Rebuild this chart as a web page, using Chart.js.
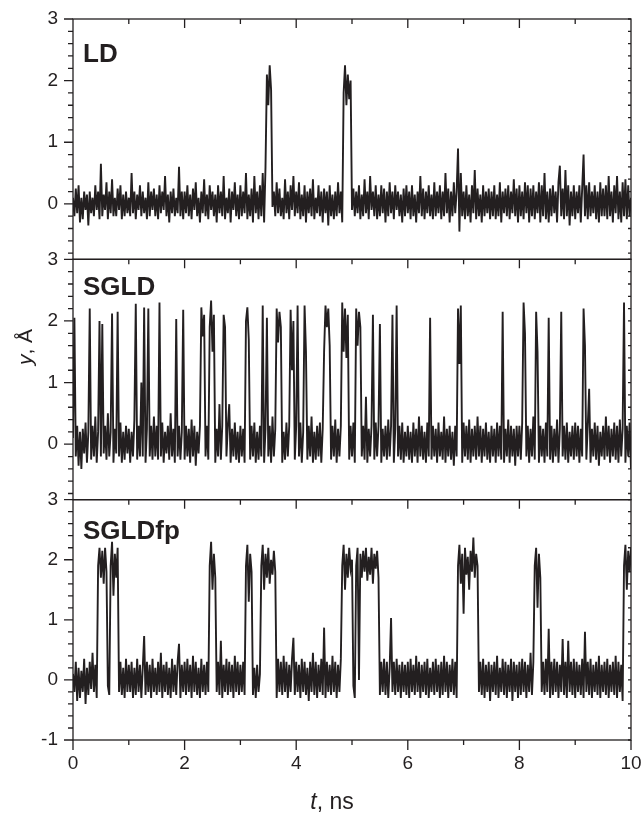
<!DOCTYPE html>
<html>
<head>
<meta charset="utf-8">
<script src="https://cdn.jsdelivr.net/npm/chart.js@4/dist/chart.umd.min.js"></script>
<style>
  body { margin: 0; background: #fff; }
  canvas { display: block; }
</style>
</head>
<body>
<canvas id="grafico" width="641" height="823"></canvas>
<script>
// traces sampled every 0.025 ns, 0..10 ns
const sampleStep = 0.025;

const ldY = [
  0.1,-0.2,0.25,-0.15,0.3,-0.3,0.1,-0.25,0.2,-0.1,0.15,-0.35,0.2,-0.15,0.1,-0.2,0.3,-0.1,0.2,-0.25,
  0.65,-0.2,0.15,-0.1,0.35,-0.25,0.2,-0.15,0.4,-0.2,0.1,-0.2,0.25,-0.1,0.3,-0.25,0.15,-0.2,0.2,-0.15,
  0.1,-0.2,0.5,-0.15,0.2,-0.25,0.15,-0.1,0.3,-0.2,0.2,-0.15,0.1,-0.25,0.35,-0.2,0.2,-0.1,0.25,-0.2,
  0.15,-0.25,0.3,-0.15,0.2,-0.1,0.45,-0.2,0.15,-0.3,0.2,-0.15,0.25,-0.2,0.1,-0.15,0.6,-0.2,0.2,-0.25,
  0.2,-0.15,0.3,-0.2,0.15,-0.25,0.25,-0.1,0.35,-0.2,0.1,-0.3,0.2,-0.15,0.4,-0.2,0.15,-0.25,0.3,-0.1,
  0.2,-0.2,0.15,-0.3,0.3,-0.15,0.2,-0.2,0.45,-0.25,0.1,-0.15,0.25,-0.3,0.2,-0.1,0.35,-0.2,0.15,-0.25,
  0.3,-0.2,0.2,-0.15,0.5,-0.25,0.15,-0.2,0.25,-0.3,0.45,-0.15,0.2,-0.25,0.3,-0.2,0.5,-0.3,0.6,2.1,
  1.6,2.25,1.85,-0.05,0.2,-0.2,0.35,-0.15,0.25,-0.2,0.1,-0.25,0.4,-0.15,0.2,-0.25,0.3,-0.1,0.45,-0.2,
  0.2,-0.15,0.35,-0.25,0.15,-0.2,0.3,-0.3,0.2,-0.15,0.25,-0.2,0.4,-0.25,0.1,-0.15,0.3,-0.2,0.2,-0.3,
  0.25,-0.15,0.2,-0.35,0.3,-0.2,0.15,-0.25,0.2,-0.2,0.35,-0.15,0.2,-0.3,1.8,2.25,1.6,2.1,1.7,2.0,
  -0.1,0.25,-0.2,0.2,-0.15,0.3,-0.25,0.15,-0.2,0.4,-0.15,0.2,-0.25,0.45,-0.1,0.2,-0.2,0.3,-0.25,0.15,
  -0.2,0.3,-0.15,0.25,-0.3,0.2,-0.2,0.35,-0.15,0.2,-0.25,0.3,-0.1,0.2,-0.2,0.15,-0.3,0.25,-0.2,0.3,
  -0.15,0.2,-0.25,0.3,-0.2,0.15,-0.3,0.2,-0.15,0.45,-0.2,0.25,-0.25,0.2,-0.15,0.3,-0.2,0.15,-0.25,0.35,
  -0.2,0.2,-0.15,0.3,-0.25,0.2,-0.2,0.5,-0.15,0.25,-0.3,0.2,-0.2,0.35,-0.15,0.2,0.9,-0.45,0.5,-0.2,
  0.2,-0.25,0.3,-0.2,0.15,-0.3,0.3,-0.15,0.55,-0.25,0.25,-0.2,0.15,-0.3,0.3,-0.2,0.2,-0.15,0.25,-0.25,
  0.2,-0.2,0.3,-0.25,0.15,-0.2,0.35,-0.3,0.2,-0.15,0.25,-0.2,0.3,-0.25,0.2,-0.15,0.4,-0.2,0.25,-0.3,
  0.3,-0.2,0.2,-0.25,0.35,-0.15,0.3,-0.3,0.25,-0.2,0.3,-0.25,0.2,-0.15,0.35,-0.3,0.3,-0.2,0.5,-0.25,
  0.2,-0.3,0.25,-0.2,0.3,-0.15,0.2,-0.3,0.35,0.62,-0.2,0.25,-0.25,0.55,-0.2,0.3,-0.35,0.2,-0.2,0.3,
  -0.25,0.2,-0.15,0.3,-0.3,0.25,0.8,-0.2,0.3,-0.25,0.35,-0.2,0.2,-0.15,0.3,-0.25,0.2,-0.3,0.35,-0.2,
  0.25,-0.2,0.3,-0.25,0.45,-0.2,0.2,-0.3,0.3,-0.15,0.45,-0.25,0.2,-0.3,0.35,-0.2,0.4,-0.25,0.3,-0.2,
  0.1
];

const sgldY = [
  0.1,2.05,-0.2,0.3,-0.35,0.2,-0.4,0.25,-0.15,0.35,-0.3,0.2,2.2,-0.25,0.3,-0.2,0.45,-0.3,0.2,2.0,
  -0.2,1.95,-0.15,0.3,-0.25,0.5,-0.2,0.2,2.12,-0.3,0.25,-0.15,2.15,-0.2,0.35,-0.3,0.2,-0.25,0.3,-0.15,
  0.25,-0.3,0.2,-0.2,0.4,2.28,-0.25,0.3,-0.2,1.0,-0.2,2.22,-0.3,0.25,2.2,-0.2,0.3,-0.25,0.45,-0.2,
  0.3,-0.25,2.3,-0.2,0.35,-0.3,0.2,-0.15,0.3,-0.25,0.5,-0.2,0.25,-0.3,2.03,-0.2,0.3,-0.25,0.2,2.18,
  -0.25,0.3,-0.2,0.25,-0.3,0.4,-0.2,0.3,-0.35,0.2,-0.15,0.3,2.22,1.75,2.1,-0.2,0.3,-0.25,1.9,2.33,
  1.5,2.1,-0.3,0.25,-0.2,0.65,-0.25,0.3,2.1,1.9,-0.2,0.3,0.65,-0.3,0.25,-0.2,0.35,-0.25,0.2,-0.3,
  0.3,-0.2,0.25,-0.3,2.0,2.22,1.7,-0.25,0.3,-0.2,0.35,-0.3,0.2,-0.25,0.3,-0.2,2.25,-0.3,0.25,2.05,
  -0.2,0.3,-0.3,0.45,-0.2,0.25,2.2,1.65,2.15,1.9,-0.3,0.2,-0.25,0.35,-0.2,0.3,2.18,1.2,2.0,-0.25,
  0.3,2.25,-0.2,0.35,-0.3,0.2,2.25,1.5,-0.25,0.3,-0.2,0.45,-0.3,0.2,-0.25,0.3,-0.2,0.35,-0.3,0.25,
  1.5,2.25,1.9,2.2,1.6,-0.25,0.3,-0.2,0.4,-0.3,0.25,-0.2,0.3,2.3,1.5,2.2,1.4,2.1,-0.25,0.3,
  -0.2,0.35,-0.3,2.2,1.6,2.15,1.9,-0.2,0.3,-0.25,0.77,-0.3,0.25,-0.2,0.3,2.1,-0.25,0.35,-0.2,0.3,
  1.95,-0.3,0.25,-0.2,0.3,-0.25,0.4,-0.2,0.3,2.1,-0.3,0.25,2.25,-0.2,0.3,-0.25,0.35,-0.3,0.2,-0.2,
  0.3,-0.25,0.2,-0.3,0.35,-0.2,0.25,-0.3,0.45,-0.2,0.3,-0.25,0.2,-0.3,0.35,-0.2,2.05,-0.25,0.3,-0.2,
  0.25,-0.3,0.35,-0.2,0.2,-0.25,0.45,-0.3,0.25,-0.2,0.3,-0.25,0.2,-0.35,0.3,-0.2,2.2,1.3,2.25,-0.3,
  0.35,-0.2,0.3,-0.25,0.4,-0.3,0.25,-0.2,0.3,-0.25,0.45,-0.2,0.3,-0.3,0.25,-0.2,0.35,-0.25,0.2,-0.3,
  0.3,-0.2,0.25,-0.3,0.35,-0.2,0.3,-0.25,2.15,-0.3,0.25,-0.2,0.4,-0.3,0.3,-0.2,0.25,-0.35,0.3,-0.2,
  0.3,-0.25,0.35,2.3,1.8,-0.2,0.3,-0.3,0.25,-0.2,0.45,-0.25,2.15,1.5,-0.3,0.3,-0.2,0.25,-0.3,0.35,
  -0.2,2.05,-0.25,0.3,-0.3,0.25,-0.2,0.4,-0.3,0.25,2.15,-0.2,0.3,-0.25,0.35,-0.3,0.2,-0.2,0.3,-0.25,
  0.35,-0.2,0.3,-0.3,0.25,-0.2,2.2,1.6,-0.25,0.3,0.9,-0.3,0.25,-0.2,0.35,-0.25,0.3,-0.35,0.2,-0.2,
  0.3,-0.25,0.45,-0.2,0.3,-0.3,0.25,-0.2,0.35,-0.25,0.3,-0.3,0.4,-0.2,0.25,2.3,-0.3,0.3,-0.2,0.35,
  -0.4
];

const sgldfpY = [
  0.1,-0.2,0.3,-0.35,0.2,-0.3,0.15,-0.2,0.35,-0.4,0.2,-0.25,0.3,-0.15,0.45,-0.2,0.25,-0.3,1.9,2.2,
  1.7,2.15,1.6,2.2,1.8,-0.1,-0.25,1.9,2.3,1.4,2.1,1.7,2.2,-0.2,0.3,-0.25,0.2,-0.3,0.35,-0.2,
  0.25,-0.2,0.3,-0.3,0.2,-0.25,0.35,-0.2,0.25,-0.3,0.2,0.73,-0.25,0.3,-0.2,0.25,-0.3,0.35,-0.2,0.2,
  -0.25,0.3,-0.2,0.45,-0.3,0.25,-0.2,0.3,-0.25,0.2,-0.3,0.35,-0.2,0.25,-0.25,0.3,0.6,-0.3,0.25,-0.2,
  0.3,-0.25,0.35,-0.2,0.25,-0.3,0.4,-0.2,0.3,-0.25,0.2,-0.3,0.35,-0.2,0.25,-0.25,0.3,-0.2,1.9,2.3,
  1.5,2.1,1.7,-0.2,0.3,-0.25,0.65,-0.3,0.25,-0.2,0.35,-0.25,0.3,-0.2,0.25,-0.3,0.4,-0.2,0.3,-0.25,
  0.25,-0.2,0.3,-0.25,1.9,2.25,1.3,2.1,1.8,-0.25,0.2,-0.3,0.25,-0.2,0.1,1.9,2.25,1.5,2.1,1.7,
  2.2,1.6,2.0,1.75,2.15,1.8,-0.3,0.35,-0.2,0.3,-0.25,0.4,-0.2,0.3,-0.3,0.25,-0.2,0.35,0.7,-0.25,
  0.3,-0.2,0.25,-0.3,0.35,-0.2,0.3,-0.25,0.2,-0.35,0.3,-0.2,0.45,-0.25,0.3,-0.3,0.25,-0.2,0.35,-0.25,
  0.87,-0.3,0.3,-0.2,0.25,-0.25,0.4,-0.2,0.3,-0.3,0.25,-0.2,0.35,1.9,2.25,1.5,2.1,1.7,2.2,1.85,
  2.0,-0.1,-0.3,1.9,2.2,0.0,2.1,1.7,2.15,1.8,2.2,1.65,2.05,1.75,2.2,1.6,2.1,1.85,2.15,1.7,
  -0.25,0.3,-0.2,0.35,-0.25,0.3,-0.3,0.2,1.03,-0.2,0.3,-0.25,0.35,-0.2,0.25,-0.3,0.3,-0.2,0.25,-0.25,
  0.3,-0.3,0.35,-0.2,0.25,-0.25,0.4,-0.2,0.3,-0.3,0.25,-0.2,0.3,-0.25,0.35,-0.3,0.2,-0.2,0.3,-0.25,
  0.35,-0.2,0.25,-0.3,0.3,-0.25,0.4,-0.2,0.3,-0.3,0.25,-0.2,0.35,-0.25,0.3,-0.3,1.9,2.25,1.6,2.1,
  1.1,2.2,1.75,2.05,1.5,2.15,1.8,2.37,1.7,2.1,1.9,-0.2,0.3,-0.25,0.35,-0.3,0.25,-0.2,0.3,-0.35,
  0.25,-0.2,0.3,-0.25,0.4,-0.3,0.2,-0.2,0.35,-0.25,0.3,-0.3,0.25,-0.2,0.35,-0.35,0.3,-0.2,0.25,-0.3,
  0.3,-0.25,0.35,-0.2,0.3,-0.3,0.25,-0.2,0.45,-0.25,0.3,1.9,2.2,1.2,2.1,1.7,-0.2,0.3,-0.25,0.35,
  -0.2,0.85,-0.3,0.3,-0.25,0.35,-0.2,0.3,-0.3,0.25,-0.2,0.68,-0.25,0.3,-0.3,0.65,-0.2,0.3,-0.25,0.35,
  -0.3,0.3,-0.2,0.25,-0.25,0.35,-0.3,0.8,-0.2,0.3,-0.25,0.35,-0.3,0.25,-0.2,0.3,-0.25,0.4,-0.3,0.25,
  -0.2,0.3,-0.25,0.35,-0.3,0.25,-0.2,0.3,-0.25,0.4,-0.3,0.3,-0.2,0.25,-0.35,1.9,2.25,1.5,2.15,1.8,
  2.2
];

const panelNames = ["LD", "SGLD", "SGLDfp"];
const panelIds = ["yLD", "ySGLD", "ySGLDfp"];
const panelSeries = [ldY, sgldY, sgldfpY];
const yTicksUpper = [0, 1, 2, 3];
const yTicksLower = [-1, 0, 1, 2, 3];
const xTicks = [0, 2, 4, 6, 8, 10];

const ink = "#231f20";
const familia = '"Liberation Sans", Arial, sans-serif';
const labelOffsets = [43, 36, 39];

Chart.defaults.font.family = familia;
Chart.defaults.font.size = 19;
Chart.defaults.color = ink;

function paraPontos(serie) {
  return serie.map((v, i) => ({ x: i * sampleStep, y: v }));
}

function eixoY(ticksLista, min, peso) {
  return {
    type: "linear",
    position: "left",
    stack: "paineis",
    stackWeight: 1,
    weight: peso,
    min: min,
    max: 3,
    grid: { display: false, drawTicks: false },
    border: { display: false },
    ticks: { padding: 15, autoSkip: false },
    afterBuildTicks: s => { s.ticks = ticksLista.map(v => ({ value: v })); },
    afterFit: s => { s.width = 73; s.paddingTop = 0; s.paddingBottom = 0; }
  };
}

const molduraPlugin = {
  id: "moldura",
  afterDatasetsDraw(chart) {
    const ctx = chart.ctx;
    const area = chart.chartArea;
    const xs = chart.scales.x;
    ctx.save();
    ctx.strokeStyle = ink;
    ctx.fillStyle = ink;
    ctx.lineWidth = 1.3;
    panelIds.forEach((id, k) => {
      const ys = chart.scales[id];
      ctx.strokeRect(area.left, ys.top, area.right - area.left, ys.bottom - ys.top);
      ctx.beginPath();
      // ticks do eixo y (0.2 em 0.2)
      for (let n = Math.ceil(ys.min * 5); n <= Math.round(ys.max * 5); n++) {
        const py = ys.getPixelForValue(n / 5);
        const maior = n % 5 === 0;
        ctx.moveTo(area.left, py);
        ctx.lineTo(area.left - (maior ? 9 : 5), py);
        ctx.moveTo(area.right, py);
        ctx.lineTo(area.right - 3, py);
      }
      // ticks internos no topo de cada painel
      for (let n = 1; n < 10; n++) {
        const px = xs.getPixelForValue(n);
        ctx.moveTo(px, ys.top);
        ctx.lineTo(px, ys.top + (n % 2 === 0 ? 9 : 5));
      }
      if (k === panelIds.length - 1) {
        for (let n = 0; n <= 10; n++) {
          const px = xs.getPixelForValue(n);
          ctx.moveTo(px, ys.bottom);
          ctx.lineTo(px, ys.bottom + (n % 2 === 0 ? 10 : 5));
        }
      }
      ctx.stroke();
      ctx.font = "bold 26px " + familia;
      ctx.textAlign = "left";
      ctx.textBaseline = "alphabetic";
      ctx.fillText(panelNames[k], area.left + 10, ys.top + labelOffsets[k]);
    });

    // titulo do eixo x: "t, ns"
    const fItal = "italic 23px " + familia;
    const fNorm = "23px " + familia;
    ctx.font = fItal;
    const w1 = ctx.measureText("t").width;
    ctx.font = fNorm;
    const w2 = ctx.measureText(", ns").width;
    let x0 = 332 - (w1 + w2) / 2;
    ctx.textAlign = "left";
    ctx.font = fItal;
    ctx.fillText("t", x0, 809);
    ctx.font = fNorm;
    ctx.fillText(", ns", x0 + w1, 809);

    // titulo do eixo y: "y, Å"
    ctx.translate(32, 347);
    ctx.rotate(-Math.PI / 2);
    const gItal = "italic 21px " + familia;
    const gNorm = "21px " + familia;
    ctx.font = gItal;
    const v1 = ctx.measureText("y").width;
    ctx.font = gNorm;
    const v2 = ctx.measureText(", Å").width;
    const y0 = -(v1 + v2) / 2;
    ctx.font = gItal;
    ctx.fillText("y", y0, 0);
    ctx.font = gNorm;
    ctx.fillText(", Å", y0 + v1, 0);
    ctx.restore();
  }
};

const ctx = document.getElementById("grafico").getContext("2d");

window.grafico = new Chart(ctx, {
  type: "line",
  data: {
    datasets: panelSeries.map((serie, k) => ({
      label: panelNames[k],
      data: paraPontos(serie),
      yAxisID: panelIds[k],
      borderColor: ink,
      borderWidth: 1.9,
      borderJoinStyle: "miter",
      pointRadius: 0,
      tension: 0,
      fill: false
    }))
  },
  options: {
    responsive: false,
    animation: false,
    layout: { padding: { top: 19, right: 10, left: 0, bottom: 0 } },
    plugins: { legend: { display: false }, tooltip: { enabled: false } },
    scales: {
      x: {
        type: "linear",
        position: "bottom",
        min: 0,
        max: 10,
        grid: { display: false, drawTicks: false },
        border: { display: false },
        ticks: { padding: 12, autoSkip: false, maxRotation: 0 },
        afterBuildTicks: s => { s.ticks = xTicks.map(v => ({ value: v })); },
        afterFit: s => { s.height = 83; s.paddingLeft = 0; s.paddingRight = 0; }
      },
      ySGLDfp: eixoY(yTicksLower, -1, 1),
      ySGLD: eixoY(yTicksUpper, -0.9, 2),
      yLD: eixoY(yTicksUpper, -0.9, 3)
    }
  },
  plugins: [molduraPlugin]
});
</script>
</body>
</html>
